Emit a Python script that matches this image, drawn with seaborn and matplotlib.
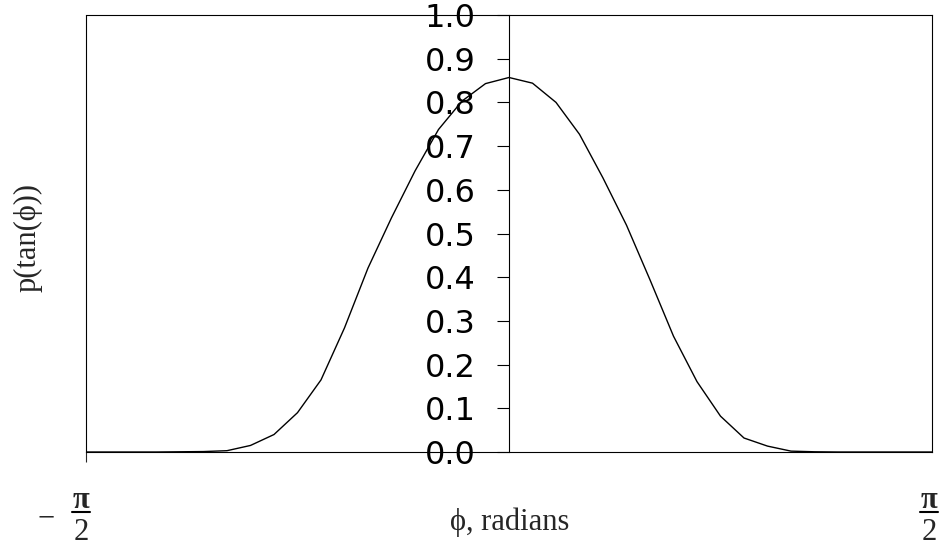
import numpy as np
import pandas as pd
import matplotlib
matplotlib.use("Agg")
import matplotlib.pyplot as plt
import seaborn as sns

# Angle samples (degrees) and the density p(tan(phi)) at each sample
phi_deg = [-90, -85, -80, -75, -70, -65, -60, -55, -50, -45, -40, -35, -30,
           -25, -20, -15, -10, -5, 0, 5, 10, 15, 20, 25, 30, 35, 40, 45,
           50, 55, 60, 65, 70, 75, 80, 85, 90]
density = [0.0, 0.0, 0.0, 0.0, 0.0005, 0.001, 0.003, 0.015, 0.040, 0.090,
           0.165, 0.284, 0.421, 0.536, 0.643, 0.738, 0.803, 0.843, 0.857,
           0.844, 0.800, 0.727, 0.627, 0.519, 0.394, 0.265, 0.161, 0.082,
           0.032, 0.0135, 0.002, 0.0005, 0.0, 0.0, 0.0, 0.0, 0.0]
y_ticks = [0.0, 0.1, 0.2, 0.3, 0.4, 0.5, 0.6, 0.7, 0.8, 0.9, 1.0]

df = pd.DataFrame({"phi": np.deg2rad(phi_deg), "p": density})

sns.set_style("white")
plt.rcParams["font.family"] = ["DejaVu Sans"]

W, H = 942, 552
fig = plt.figure(figsize=(W / 100, H / 100), dpi=100)
ax = fig.add_axes([86 / W, (H - 452) / H, (932 - 86) / W, (452 - 15) / H])

sns.lineplot(data=df, x="phi", y="p", ax=ax, color="black", linewidth=1.0)

ax.set_xlim(-np.pi / 2, np.pi / 2)
ax.set_ylim(0, 1)

# y axis runs through phi = 0
for side in ["left", "right", "top", "bottom"]:
    ax.spines[side].set_visible(True)
    ax.spines[side].set_color("black")
    ax.spines[side].set_linewidth(0.8)
ax.spines["left"].set_position(("data", 0))
ax.axvline(-np.pi / 2, color="black", linewidth=0.8, clip_on=False)

ax.set_yticks(y_ticks)
ax.set_yticklabels([f"{v:.1f}" for v in y_ticks])
ax.tick_params(axis="y", direction="out", length=9, width=0.8, pad=15,
               labelsize=23, left=True, colors="black")
ax.set_xticks([-np.pi / 2])
ax.set_xticklabels([""])
ax.tick_params(axis="x", direction="out", length=7.5, width=0.8, bottom=True)

ax.set_xlabel("")
ax.set_ylabel("")

serif = ["Liberation Serif", "DejaVu Serif"]


def px(x, y):
    return x / W, 1 - y / H


# End labels: -pi/2 and pi/2 written as stacked fractions
for cx, neg in [(81, True), (929, False)]:
    fig.text(*px(cx, 501), "\u03c0", ha="center", va="center",
             fontsize=22, family=serif, fontweight="bold")
    fig.text(*px(cx, 532), "2", ha="center", va="center",
             fontsize=22, family=serif)
    fig.add_artist(plt.Line2D([(cx - 9) / W, (cx + 9) / W],
                              [1 - 512 / H, 1 - 512 / H],
                              color="black", linewidth=1.5))
    if neg:
        fig.text(*px(46, 519), "\u2212", ha="center", va="center",
                 fontsize=22, family=serif)

fig.text(*px(510, 522), "\u03d5, radians", ha="center", va="center",
         fontsize=22, family=serif)
fig.text(*px(28, 238), "p(tan(\u03d5))", ha="center", va="center",
         fontsize=22, family=serif, rotation=90)

fig.savefig("out.png", dpi=100, facecolor="white")
